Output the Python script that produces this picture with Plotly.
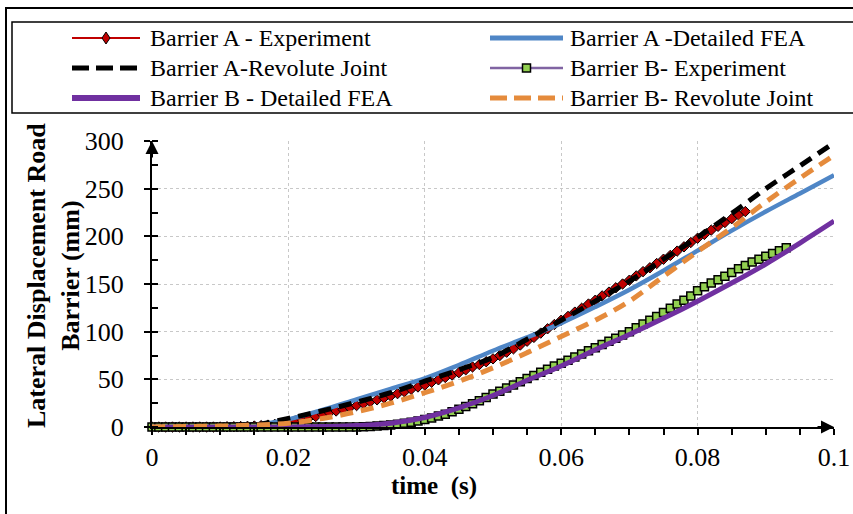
import plotly.graph_objects as go

# ---------------- data ----------------
t_model = [0, 0.005, 0.01, 0.015, 0.02, 0.025, 0.03, 0.035, 0.04, 0.045, 0.05,
           0.055, 0.06, 0.065, 0.07, 0.075, 0.08, 0.085, 0.09, 0.095, 0.1]
a_fea = [0, 0, 0.5, 2, 8, 18, 29, 40, 51, 65, 80, 94, 109, 126, 144, 164, 185, 206, 226, 245, 264]
a_rj = [0, 0, 0.5, 2, 9, 17, 26, 36, 48, 60, 73, 92, 112, 132, 153, 176, 199, 224, 250, 274, 298]
b_fea = [0, 0, 0, 0, 0, 0.5, 1.5, 4, 10, 20, 33, 49, 64, 81, 97, 114, 132, 151, 171, 193, 216]
b_rj = [0, 0.5, 1, 2, 4, 9, 16, 25, 36, 48, 62, 78, 95, 112, 132, 158, 184, 209, 236, 261, 285]

t_exp_a = [i / 1000 for i in range(0, 88)]
a_exp = [0, 0, 0, 0, 0, 0, 0, 0, 0, 0, 0,
         0.2, 0.3, 0.5, 0.7, 1.0, 1.4, 2, 2.8, 3.8, 5,
         6.4, 8, 9.5, 11, 13, 15, 16.8, 18.5, 20.5, 22.5,
         24.5, 26.5, 28.5, 30.5, 32.5, 35, 37, 39.5, 42, 44,
         47, 49.5, 52, 54.5, 57, 60, 63, 65.5, 68.5, 71.5,
         75, 78.5, 82, 86, 90, 94, 98.5, 103, 107.5, 112,
         116, 120.5, 124.5, 129, 133, 137.5, 141.5, 146, 150, 154,
         158.5, 163, 167, 171.5, 176, 180, 184.5, 189, 193.5, 198,
         202, 206.5, 210.5, 214.5, 218.5, 222.5, 226]

t_exp_b = [i / 1000 for i in range(0, 94)]
b_exp = [0] * 31 + [
    0.3, 0.6, 1, 1.5, 2.2, 3, 4, 5, 6.3, 7.8,
    9.5, 11.5, 13.5, 16, 18.5, 21.5, 24.5, 27.5, 31, 34.5,
    37.5, 41, 44, 47.5, 51, 54, 57.5, 60.5, 64, 67,
    70, 73.5, 76.5, 80, 83, 86.5, 90, 93, 96.5, 100,
    104, 108, 112, 116, 120, 124.5, 129, 133, 137.5, 143,
    147, 151, 154.5, 158, 162, 166, 169.5, 173, 176, 179,
    182, 185, 188]

x_tickvals = [0, 0.02, 0.04, 0.06, 0.08, 0.1]
x_ticktext = ["0", "0.02", "0.04", "0.06", "0.08", "0.1"]
y_tickvals = [0, 50, 100, 150, 200, 250, 300]
y_ticktext = ["0", "50", "100", "150", "200", "250", "300"]

names = ["Barrier A - Experiment", "Barrier A -Detailed FEA", "Barrier A-Revolute Joint",
         "Barrier B- Experiment", "Barrier B - Detailed FEA", "Barrier B- Revolute Joint"]

# ---------------- style ----------------
RED = "#C00000"
BLUE = "#4F86C6"
BLACK = "#000000"
PURPLE = "#7030A0"
PURPLE_THIN = "#8064A2"
GREEN = "#92D050"
ORANGE = "#E58B3C"
FONT = "Times New Roman, Liberation Serif, serif"

W, H = 853, 514
L, R, T, B = 152, 19, 141, 87
PW, PH = W - L - R, H - T - B


def fx(px):
    return (px - L) / PW


def fy(py):
    return (H - B - py) / PH


fig = go.Figure()

fig.add_trace(go.Scatter(x=t_exp_a, y=a_exp, mode="lines+markers", name=names[0],
                         line=dict(color=RED, width=1.5),
                         marker=dict(symbol="diamond", size=8, color=RED,
                                     line=dict(color=BLACK, width=1)),
                         showlegend=False, cliponaxis=False))
fig.add_trace(go.Scatter(x=t_model, y=a_fea, mode="lines", name=names[1],
                         line=dict(color=BLUE, width=4.5, shape="spline"), showlegend=False))
fig.add_trace(go.Scatter(x=t_model, y=a_rj, mode="lines", name=names[2],
                         line=dict(color=BLACK, width=5, dash="13px,8px", shape="spline"),
                         showlegend=False))
fig.add_trace(go.Scatter(x=t_exp_b, y=b_exp, mode="lines+markers", name=names[3],
                         line=dict(color=PURPLE_THIN, width=1.5),
                         marker=dict(symbol="square", size=8, color=GREEN,
                                     line=dict(color=BLACK, width=1.5)),
                         showlegend=False, cliponaxis=False))
fig.add_trace(go.Scatter(x=t_model, y=b_fea, mode="lines", name=names[4],
                         line=dict(color=PURPLE, width=5, shape="spline"), showlegend=False))
fig.add_trace(go.Scatter(x=t_model, y=b_rj, mode="lines", name=names[5],
                         line=dict(color=ORANGE, width=5, dash="13px,8px", shape="spline"),
                         showlegend=False))

shapes = []
annotations = []

# outer frame and legend box
shapes.append(dict(type="rect", xref="paper", yref="paper",
                   x0=fx(6), x1=fx(900), y0=fy(600), y1=fy(8),
                   line=dict(color="black", width=2), layer="above"))
shapes.append(dict(type="rect", xref="paper", yref="paper",
                   x0=fx(12), x1=fx(900), y0=fy(113), y1=fy(22),
                   line=dict(color="black", width=1.5), layer="above"))

# manual legend
rows = [38, 68, 98]
cols = [(72, 140, 148), (490, 563, 568)]
entries = [
    (0, 0, dict(color=RED, width=2), "diamond"),
    (0, 1, dict(color=BLUE, width=5), None),
    (1, 0, dict(color=BLACK, width=5, dash="17px,7px"), None),
    (1, 1, dict(color=PURPLE_THIN, width=2.5), "square"),
    (2, 0, dict(color=PURPLE, width=6), None),
    (2, 1, dict(color=ORANGE, width=5, dash="17px,7px"), None),
]
for i, (r, c, ln, mk) in enumerate(entries):
    x0, x1, xt = cols[c]
    yy = fy(rows[r])
    shapes.append(dict(type="line", xref="paper", yref="paper",
                       x0=fx(x0), x1=fx(x1), y0=yy, y1=yy, line=ln))
    xc = fx((x0 + x1) / 2)
    if mk == "diamond":
        shapes.append(dict(type="path", xref="paper", yref="paper",
                           xsizemode="pixel", ysizemode="pixel", xanchor=xc, yanchor=yy,
                           path="M0,6 L4,0 L0,-6 L-4,0 Z", fillcolor=RED,
                           line=dict(color="black", width=1)))
    elif mk == "square":
        shapes.append(dict(type="rect", xref="paper", yref="paper",
                           xsizemode="pixel", ysizemode="pixel", xanchor=xc, yanchor=yy,
                           x0=-4, x1=4, y0=-4, y1=4, fillcolor=GREEN,
                           line=dict(color="black", width=1.5)))
    annotations.append(dict(text=names[i], xref="paper", yref="paper", x=fx(xt), y=yy,
                            xanchor="left", yanchor="middle", showarrow=False,
                            font=dict(family=FONT, size=24, color="black")))

# axis titles
annotations.append(dict(text="<b>Lateral Displacement Road<br>Barrier (mm)</b>",
                        xref="paper", yref="paper", x=fx(53), y=fy(276), textangle=-90,
                        xanchor="center", yanchor="middle", showarrow=False,
                        font=dict(family=FONT, size=26, color="black")))
annotations.append(dict(text="<b>time  (s)</b>", xref="paper", yref="paper",
                        x=fx(434), y=fy(486), xanchor="center", yanchor="middle",
                        showarrow=False, font=dict(family=FONT, size=25, color="black")))

# axis arrowheads
annotations.append(dict(x=0, y=300, xref="x", yref="y", ax=0, ay=18, text="",
                        showarrow=True, arrowhead=2, arrowsize=1.3, arrowwidth=2,
                        arrowcolor="black"))
annotations.append(dict(x=0.1, y=0, xref="x", yref="y", ax=-18, ay=0, text="",
                        showarrow=True, arrowhead=2, arrowsize=1.3, arrowwidth=2,
                        arrowcolor="black"))

fig.update_layout(
    width=W, height=H,
    margin=dict(l=L, r=R, t=T, b=B, autoexpand=False),
    paper_bgcolor="white", plot_bgcolor="white",
    showlegend=False,
    shapes=shapes, annotations=annotations,
    font=dict(family=FONT, color="black"),
)
fig.update_xaxes(range=[0, 0.1], tickmode="array", tickvals=x_tickvals, ticktext=x_ticktext,
                 automargin=False,
                 showline=True, linecolor="black", linewidth=2,
                 ticks="outside", ticklen=6, tickwidth=2, tickcolor="black",
                 ticklabelstandoff=0,
                 tickfont=dict(family=FONT, size=26, color="black"),
                 showgrid=True, gridcolor="#C8C8C8", griddash="dot", gridwidth=1,
                 zeroline=False,
                 minor=dict(dtick=0.005, tick0=0, ticks="outside", ticklen=6, tickwidth=1.5,
                            tickcolor="black", showgrid=False))
fig.update_yaxes(range=[0, 300], tickmode="array", tickvals=y_tickvals, ticktext=y_ticktext,
                 automargin=False,
                 showline=True, linecolor="black", linewidth=2,
                 ticks="outside", ticklen=6, tickwidth=2, tickcolor="black",
                 ticklabelstandoff=15,
                 tickfont=dict(family=FONT, size=26, color="black"),
                 showgrid=True, gridcolor="#C8C8C8", griddash="dot", gridwidth=1,
                 zeroline=False,
                 minor=dict(dtick=25, tick0=0, ticks="inside", ticklen=6, tickwidth=1.5,
                            tickcolor="black", showgrid=False))

fig.write_html("out.html",
               config={"displayModeBar": False},
               post_script="document.body.style.margin='0px';"
                           "document.body.style.overflow='hidden';")
